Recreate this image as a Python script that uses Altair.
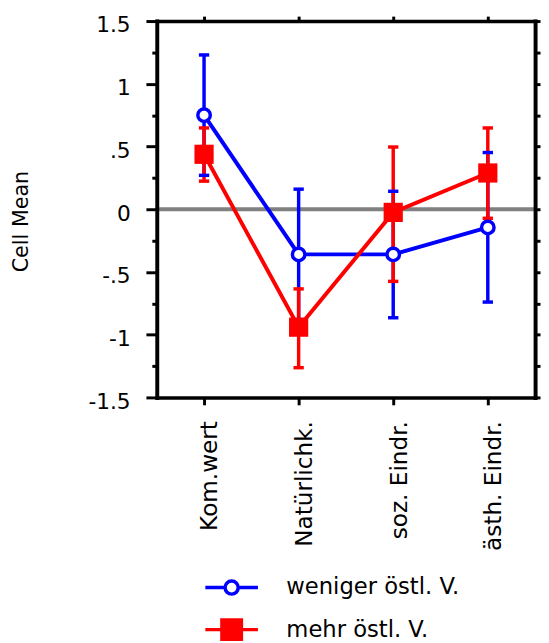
import altair as alt
import pandas as pd

# ---------------- data ----------------
categories = ["Kom.wert", "Natürlichk.", "soz. Eindr.", "ästh. Eindr."]
series_names = ["weniger östl. V.", "mehr östl. V."]
series_colors = ["#0000ff", "#ff0000"]

weniger_mean = [0.75, -0.36, -0.36, -0.145]
weniger_lo = [0.27, -0.88, -0.865, -0.74]
weniger_hi = [1.23, 0.16, 0.143, 0.452]

mehr_mean = [0.438, -0.94, -0.025, 0.289]
mehr_lo = [0.224, -1.263, -0.575, -0.072]
mehr_hi = [0.648, -0.635, 0.496, 0.648]

y_major_ticks = [-1.5, -1, -0.5, 0, 0.5, 1, 1.5]
y_major_labels = ["-1.5", "-1", "-.5", "0", ".5", "1", "1.5"]
y_minor_ticks = [-1.25, -0.75, -0.25, 0.25, 0.75, 1.25]
y_domain = [-1.5, 1.5]
zero_line = [0]

# ---------------- tables ----------------
rows = []
for s, means, los, his in [
    (series_names[0], weniger_mean, weniger_lo, weniger_hi),
    (series_names[1], mehr_mean, mehr_lo, mehr_hi),
]:
    for i, c in enumerate(categories):
        rows.append({"series": s, "cat": c, "idx": i, "mean": means[i], "lo": los[i], "hi": his[i]})
df = pd.DataFrame(rows)
zero_df = pd.DataFrame({"z": zero_line})

FONT = "DejaVu Sans"
BLACK = "#000000"

label_expr = " : ".join(
    f"datum.value == {v} ? '{lab}'" for v, lab in zip(y_major_ticks, y_major_labels)
) + " : ''"

yscale = alt.Scale(domain=y_domain, nice=False, zero=False)
xscale = alt.Scale(type="point", domain=categories, padding=0.5)
# colour scale for the marks (listed in reverse so it stays separate from the legend scales)
color = alt.Color("series:N",
                  scale=alt.Scale(domain=series_names[::-1], range=series_colors[::-1]),
                  legend=None)

common_axis = dict(grid=False, tickColor=BLACK, tickWidth=3, domainColor=BLACK, zindex=1)

ax_left_major = alt.Axis(
    orient="left", values=y_major_ticks, labelExpr=label_expr, tickSize=11,
    domain=True, domainWidth=4, domainCap="square",
    labelFont=FONT, labelFontSize=22, labelColor=BLACK, labelPadding=16, labelOffset=4,
    labelFlush=False, labelOverlap=False, labelAlign="right", labelBaseline="middle",
    title="Cell Mean", titleFont=FONT, titleFontSize=21, titleFontWeight="normal",
    titleColor=BLACK, titleX=-137, titleY=203, titleAlign="center", titleBaseline="middle",
    **common_axis,
)
ax_left_minor = alt.Axis(orient="left", values=y_minor_ticks, tickSize=5, labels=False,
                         domain=False, title=None, **common_axis)
ax_right = alt.Axis(orient="right", values=sorted(y_major_ticks + y_minor_ticks), tickSize=5,
                    labels=False, domain=True, domainWidth=4, domainCap="square", title=None,
                    **common_axis)
ax_bottom = alt.Axis(orient="bottom", tickSize=7.5, domain=True, domainWidth=3.5, domainCap="square",
                     labelAngle=-90, labelAlign="right", labelBaseline="middle",
                     labelFont=FONT, labelFontSize=23.5, labelColor=BLACK, labelPadding=16,
                     labelOffset=6, labelLimit=0, title=None, **common_axis)
ax_top = alt.Axis(orient="top", tickSize=5, labels=False, domain=True, domainWidth=3.5,
                  domainCap="square", title=None, **common_axis)

base = alt.Chart(df)

zero = alt.Chart(zero_df).mark_rule(color="#808080", strokeWidth=4).encode(
    y=alt.Y("z:Q", scale=yscale, axis=None)
)

err = base.mark_rule(strokeWidth=3.5).encode(
    x=alt.X("cat:N", scale=xscale, sort=categories, axis=ax_bottom),
    y=alt.Y("lo:Q", scale=yscale, axis=ax_left_major),
    y2="hi:Q",
    color=color,
)

caps_hi = base.mark_tick(size=10.5, thickness=3.5, opacity=1).encode(
    x=alt.X("cat:N", scale=xscale, sort=categories, axis=ax_top),
    y=alt.Y("hi:Q", scale=yscale, axis=ax_left_minor),
    color=color,
)
caps_lo = base.mark_tick(size=10.5, thickness=3.5, opacity=1).encode(
    x=alt.X("cat:N", scale=xscale, sort=categories, axis=None),
    y=alt.Y("lo:Q", scale=yscale, axis=ax_right),
    color=color,
)

lines = base.mark_line(strokeWidth=4).encode(
    x=alt.X("cat:N", scale=xscale, sort=categories, axis=None),
    y=alt.Y("mean:Q", scale=yscale, axis=None),
    color=color,
    order="idx:Q",
)

pts_w = base.transform_filter(alt.datum.series == series_names[0]).mark_point(
    shape="circle", size=160, filled=True, fill="white", stroke=series_colors[0],
    strokeWidth=3.5, opacity=1,
).encode(
    x=alt.X("cat:N", scale=xscale, sort=categories, axis=None),
    y=alt.Y("mean:Q", scale=yscale, axis=None),
)
pts_m = base.transform_filter(alt.datum.series == series_names[1]).mark_point(
    shape="square", size=380, filled=True, fill=series_colors[1], strokeWidth=0, opacity=1,
).encode(
    x=alt.X("cat:N", scale=xscale, sort=categories, axis=None),
    y=alt.Y("mean:Q", scale=yscale, axis=None),
)

# legend symbols: line with open circle / line with filled square
path_circle = ("M-1,0H-0.25M0.25,0H1M-0.25,0A0.25,0.25,0,1,1,0.25,0"
               "A0.25,0.25,0,1,1,-0.25,0Z")
path_square = "M-1,0H1M-0.37,-0.37H0.37V0.37H-0.37Z"

legend_props = alt.Legend(
    title=None, orient="none", legendX=47.5, legendY=560, padding=0,
    symbolSize=2852, symbolStrokeWidth=3.5, symbolOpacity=1, clipHeight=30, rowPadding=12.7,
    labelFont=FONT, labelFontSize=23, labelColor=BLACK, labelOffset=27, labelLimit=0,
)

# invisible layer that only carries the legend
legend_layer = base.mark_point(opacity=0, size=1).encode(
    x=alt.X("cat:N", scale=xscale, sort=categories, axis=None),
    y=alt.Y("mean:Q", scale=yscale, axis=None),
    shape=alt.Shape("series:N", scale=alt.Scale(domain=series_names, range=[path_circle, path_square]),
                    legend=legend_props),
    fill=alt.Fill("series:N", scale=alt.Scale(domain=series_names, range=["white", series_colors[1]]),
                  legend=legend_props),
    stroke=alt.Stroke("series:N", scale=alt.Scale(domain=series_names, range=series_colors),
                      legend=legend_props),
)

chart = (
    alt.layer(zero, err, caps_hi, caps_lo, lines, pts_w, pts_m, legend_layer)
    .resolve_axis(x="independent", y="independent")
    .properties(
        width=384, height=382,
        padding={"left": 151, "top": 8.5, "right": 6, "bottom": 244},
        autosize=alt.AutoSizeParams(type="none"),
    )
    .configure_view(stroke=None)
)

chart.save("out.html", embed_options={"renderer": "svg", "actions": False})
